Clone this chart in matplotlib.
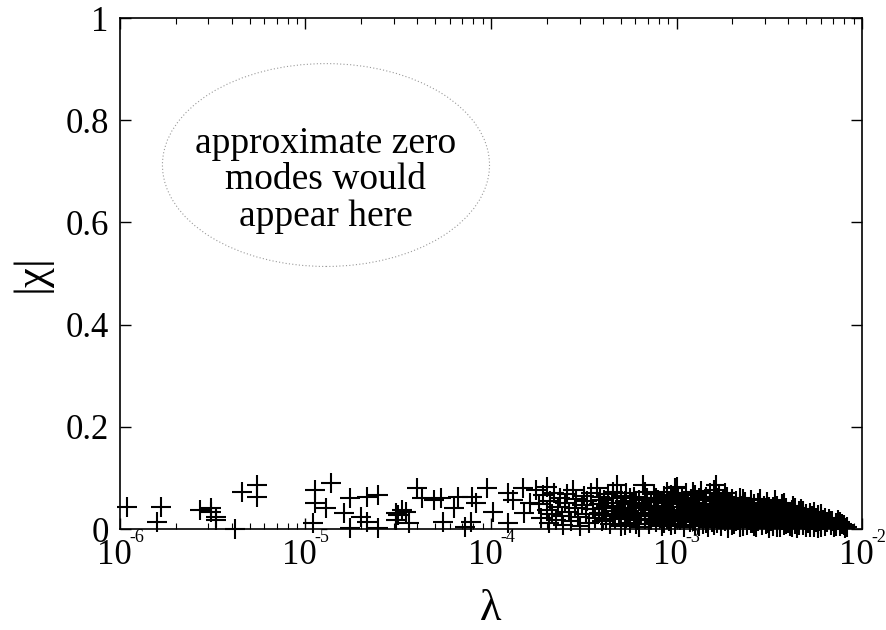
import numpy as np
import matplotlib
matplotlib.use("Agg")
import matplotlib.pyplot as plt
import matplotlib.transforms as mtransforms
from matplotlib.patches import Ellipse

plt.rcParams['font.family'] = ['Liberation Serif', 'DejaVu Serif']

# log10(lambda) and |chi| of the low modes
log_lam = [
    -5.96, -5.78, -5.80, -5.57, -5.51, -5.51, -5.48, -5.48, -5.38, -5.34, -5.26, -5.26,
    -4.95, -4.95, -4.86, -4.89, -4.96, -4.76, -4.67, -4.61, -4.79, -4.70, -4.67, -4.76,
    -4.61, -4.51, -4.51,
    -4.40, -4.48, -4.50, -4.46, -4.44, -4.37, -4.31, -4.27, -4.26, -4.20, -4.18, -4.10,
    -4.08, -4.11, -4.02, -3.99, -3.91, -3.88, -3.83, -3.82, -3.79, -3.91, -4.14, -3.76,
    -3.74, -3.73, -3.72, -3.70, -3.70, -3.69, -3.68, -3.67, -3.66, -3.65, -3.64, -3.63,
    -3.62, -3.61,
    -3.60, -3.59, -3.58, -3.57, -3.56, -3.55, -3.54, -3.53, -3.52, -3.51, -3.50,
    -3.49, -3.48, -3.47, -3.46, -3.45, -3.44, -3.43, -3.42, -3.42, -3.41, -3.40, -3.40,
    -3.39, -3.38, -3.37, -3.36, -3.35, -3.35, -3.34, -3.33, -3.32, -3.32, -3.31, -3.30,
    -3.30,
    -3.29, -3.28, -3.27, -3.27, -3.26, -3.25, -3.24, -3.23, -3.23, -3.22, -3.21, -3.20,
    -3.20,
    -3.19, -3.18, -3.18, -3.17, -3.16, -3.15, -3.15, -3.14, -3.13, -3.12, -3.12, -3.11,
    -3.10, -3.10,
    -3.09, -3.08, -3.08, -3.07, -3.06, -3.06, -3.05, -3.04, -3.04, -3.03, -3.02, -3.02,
    -3.01, -3.01, -3.00, -3.00,
    -2.99, -2.99, -2.98, -2.98, -2.97, -2.96, -2.96, -2.95, -2.95, -2.94, -2.93, -2.93,
    -2.92, -2.92, -2.91, -2.90, -2.90,
    -2.89, -2.89, -2.88, -2.88, -2.87, -2.87, -2.86, -2.86, -2.85, -2.85, -2.84, -2.84,
    -2.83, -2.83, -2.82, -2.82, -2.81, -2.81, -2.80, -2.80,
    -2.79, -2.79, -2.78, -2.78, -2.77, -2.77, -2.76, -2.76, -2.75, -2.75, -2.74, -2.74,
    -2.73, -2.73, -2.72, -2.72, -2.71, -2.71, -2.70, -2.70,
    -2.69, -2.69, -2.68, -2.68, -2.67, -2.67, -2.66, -2.66, -2.65, -2.65, -2.64, -2.64,
    -2.63, -2.63, -2.62, -2.62, -2.61, -2.61, -2.60, -2.60,
    -2.59, -2.59, -2.58, -2.58, -2.57, -2.57, -2.56, -2.56, -2.55, -2.55, -2.54, -2.54,
    -2.53, -2.53, -2.52, -2.52, -2.51, -2.51, -2.50, -2.50,
    -2.49, -2.49, -2.48, -2.48, -2.47, -2.47, -2.46, -2.46, -2.45, -2.45, -2.44, -2.44,
    -2.43, -2.43, -2.42, -2.42, -2.41, -2.41, -2.40,
    -2.39, -2.39, -2.38, -2.38, -2.37, -2.37, -2.36, -2.36, -2.35, -2.35, -2.34, -2.34,
    -2.33, -2.33, -2.32, -2.32, -2.31, -2.30, -2.30,
    -2.29, -2.29, -2.28, -2.28, -2.27, -2.27, -2.26, -2.26, -2.25, -2.25, -2.24, -2.24,
    -2.23, -2.22, -2.22, -2.21, -2.20,
    -2.19, -2.18, -2.17, -2.16, -2.15, -2.14, -2.13, -2.12, -2.11, -2.09, -2.08,
]
chi = [
    0.043, 0.043, 0.014, 0.037, 0.041, 0.033, 0.024, 0.018, 0.000, 0.073, 0.086, 0.063,
    0.076, 0.051, 0.090, 0.041, 0.012, 0.061, 0.063, 0.067, 0.031, 0.024, 0.014, 0.002,
    0.002, 0.031, 0.018,
    0.080, 0.037, 0.027, 0.033, 0.012, 0.061, 0.057, 0.061, 0.014, 0.041, 0.063, 0.063,
    0.051, 0.014, 0.080, 0.033, 0.071, 0.057, 0.080, 0.031, 0.051, 0.012, 0.004, 0.076,
    0.048, 0.022, 0.066, 0.082, 0.038, 0.012, 0.055, 0.030, 0.070, 0.018, 0.044, 0.060,
    0.026, 0.008,
    0.050, 0.068, 0.034, 0.015, 0.076, 0.042, 0.058, 0.024, 0.005, 0.047, 0.064,
    0.030, 0.054, 0.012, 0.070, 0.040, 0.022, 0.080, 0.048, 0.032, 0.062, 0.016, 0.042,
    0.056, 0.028, 0.068, 0.010, 0.044, 0.036, 0.060, 0.020, 0.086, 0.050, 0.030, 0.064,
    0.006,
    0.040, 0.054, 0.022, 0.070, 0.034, 0.012, 0.048, 0.062, 0.028, 0.042, 0.018, 0.056,
    0.004,
    0.032, 0.086, 0.046, 0.020, 0.060, 0.038, 0.010, 0.052, 0.026, 0.068, 0.042, 0.014,
    0.034, 0.056,
    0.022, 0.046, 0.006, 0.064, 0.030, 0.040, 0.073, 0.016, 0.052, 0.036, 0.024, 0.058,
    0.080, 0.010, 0.044, 0.082,
    0.030, 0.062, 0.018, 0.048, 0.038, 0.004, 0.054, 0.026, 0.070, 0.042, 0.014, 0.034,
    0.058, 0.022, 0.046, 0.008, 0.066,
    0.030, 0.050, 0.018, 0.040, 0.074, 0.026, 0.056, 0.010, 0.036, 0.044, 0.020, 0.062,
    0.030, 0.004, 0.048, 0.070, 0.014, 0.038, 0.024, 0.054,
    0.086, 0.034, 0.012, 0.046, 0.067, 0.022, 0.040, 0.006, 0.030, 0.056, 0.016, 0.044,
    0.026, 0.062, 0.036, 0.002, 0.050, 0.020, 0.032, 0.058,
    0.010, 0.042, 0.026, 0.054, 0.018, 0.036, 0.060, 0.004, 0.030, 0.046, 0.014, 0.038,
    0.022, 0.052, 0.008, 0.032, 0.044, 0.018, 0.026, 0.056,
    0.036, 0.012, 0.048, 0.022, 0.004, 0.030, 0.042, 0.016, 0.058, 0.026, 0.034, 0.008,
    0.046, 0.020, 0.028, 0.040, 0.012, 0.052, 0.024, 0.002,
    0.034, 0.016, 0.044, 0.006, 0.026, 0.056, 0.012, 0.036, 0.020, 0.040, 0.030, 0.004,
    0.048, 0.018, 0.024, 0.034, 0.010, 0.042, 0.022,
    0.030, 0.006, 0.038, 0.016, 0.026, 0.046, 0.010, 0.032, 0.020, 0.002, 0.036, 0.014,
    0.024, 0.040, 0.008, 0.028, 0.018, 0.030, 0.004,
    0.022, 0.012, 0.032, 0.004, 0.018, 0.026, 0.008, 0.034, 0.014, 0.022, 0.002, 0.028,
    0.016, 0.010, 0.024, 0.018, 0.006,
    0.014, 0.020, 0.008, 0.016, 0.004, 0.012, 0.018, 0.006, 0.010, 0.002, 0.004,
]

# extra modes in the crowded part of the spectrum
log_lam_dense = [
    -3.38, -3.38, -3.34, -3.34, -3.28, -3.28, -3.25, -3.25, -3.22, -3.22,
    -3.17, -3.17, -3.14, -3.14, -3.11, -3.11, -3.07, -3.07, -3.05, -3.05,
    -3.03, -3.03, -2.97, -2.97, -2.94, -2.94, -2.91, -2.91, -2.88, -2.88,
    -2.86, -2.86, -2.84, -2.84, -2.82, -2.82, -2.80, -2.80, -2.80, -2.78, -2.78,
    -2.76, -2.76, -2.74, -2.74, -2.72, -2.72, -2.70, -2.70, -2.68, -2.68,
    -2.66, -2.66, -2.64, -2.64, -2.64, -2.62, -2.62, -2.60, -2.60, -2.58, -2.58,
    -2.56, -2.56, -2.54, -2.54, -2.52, -2.52, -2.50, -2.50, -2.48, -2.48,
    -2.46, -2.46, -2.44, -2.44, -2.42, -2.42, -2.40, -2.40, -2.38, -2.38,
    -2.36, -2.36, -2.34, -2.34, -2.32, -2.32, -2.30, -2.30, -2.28, -2.28,
    -2.26, -2.26, -2.24, -2.24, -2.22, -2.22, -2.20, -2.20, -2.17, -2.14, -2.12, -2.10,
]
chi_dense = [
    0.018, 0.046, 0.026, 0.072, 0.008, 0.034, 0.060, 0.024, 0.010, 0.050,
    0.072, 0.030, 0.018, 0.044, 0.060, 0.026, 0.012, 0.050, 0.034, 0.020,
    0.066, 0.008, 0.024, 0.060, 0.032, 0.050, 0.016, 0.072, 0.060, 0.006,
    0.028, 0.046, 0.012, 0.040, 0.022, 0.058, 0.008, 0.044, 0.076, 0.026, 0.060,
    0.018, 0.050, 0.032, 0.070, 0.012, 0.044, 0.024, 0.008, 0.040, 0.016,
    0.024, 0.048, 0.006, 0.030, 0.058, 0.018, 0.044, 0.038, 0.012, 0.006, 0.030,
    0.024, 0.050, 0.016, 0.042, 0.010, 0.034, 0.018, 0.044, 0.026, 0.012,
    0.004, 0.046, 0.016, 0.036, 0.008, 0.050, 0.012, 0.032, 0.004, 0.026,
    0.018, 0.042, 0.008, 0.030, 0.016, 0.036, 0.012, 0.022, 0.018, 0.026,
    0.004, 0.020, 0.010, 0.018, 0.004, 0.030, 0.014, 0.022, 0.016, 0.006, 0.014, 0.008,
]

x_ticks = [1e-6, 1e-5, 1e-4, 1e-3, 1e-2]
x_exps = ['-6', '-5', '-4', '-3', '-2']
y_ticks = [0, 0.2, 0.4, 0.6, 0.8, 1]
y_labels = ['0', '0.2', '0.4', '0.6', '0.8', '1']

lam = 10.0 ** np.array(log_lam + log_lam_dense)
chi_all = np.array(chi + chi_dense)

fig = plt.figure(figsize=(8.86, 6.3), dpi=100)
ax = fig.add_axes([0.1354, 0.1603, 0.8376, 0.8111])

ax.plot(lam, chi_all, '+', color='black', ms=14, mew=1.5, clip_on=False)

ax.set_xscale('log')
ax.set_xlim(1e-6, 1e-2)
ax.set_ylim(0, 1)
ax.set_xticks(x_ticks)
ax.set_xticklabels([])
ax.set_yticks(y_ticks)
ax.set_yticklabels(y_labels)

ax.tick_params(which='both', direction='in', top=True, right=True, labelsize=25)
ax.tick_params(which='major', length=8, width=1)
ax.tick_params(which='minor', length=4, width=0.8)
ax.tick_params(axis='y', pad=8)
for s in ax.spines.values():
    s.set_linewidth(1.2)

# decade labels: "10" with a small raised exponent
xform = ax.get_xaxis_transform()
for t, e in zip(x_ticks, x_exps):
    base = mtransforms.offset_copy(xform, fig=fig, x=-6, y=-10, units='dots')
    ax.text(t, 0, '10', transform=base, ha='center', va='top', fontsize=25, zorder=5)
    sup = mtransforms.offset_copy(xform, fig=fig, x=9, y=0, units='dots')
    ax.text(t, 0, e, transform=sup, ha='left', va='top', fontsize=13, zorder=5)

ax.set_xlabel('λ', fontsize=32, labelpad=40)
ax.set_ylabel('|χ|', fontsize=32, labelpad=10)

# dotted region where near-zero modes would sit
ell = Ellipse((0.2776, 0.7123), 0.4407, 0.397, transform=ax.transAxes,
              fill=False, ls=(0, (1, 2)), lw=0.8, color='#999999')
ax.add_patch(ell)
ax.text(0.2776, 0.683, 'approximate zero\nmodes would\nappear here', transform=ax.transAxes,
        ha='center', va='center', fontsize=27, linespacing=1.08)

fig.savefig('out.png', dpi=100)
